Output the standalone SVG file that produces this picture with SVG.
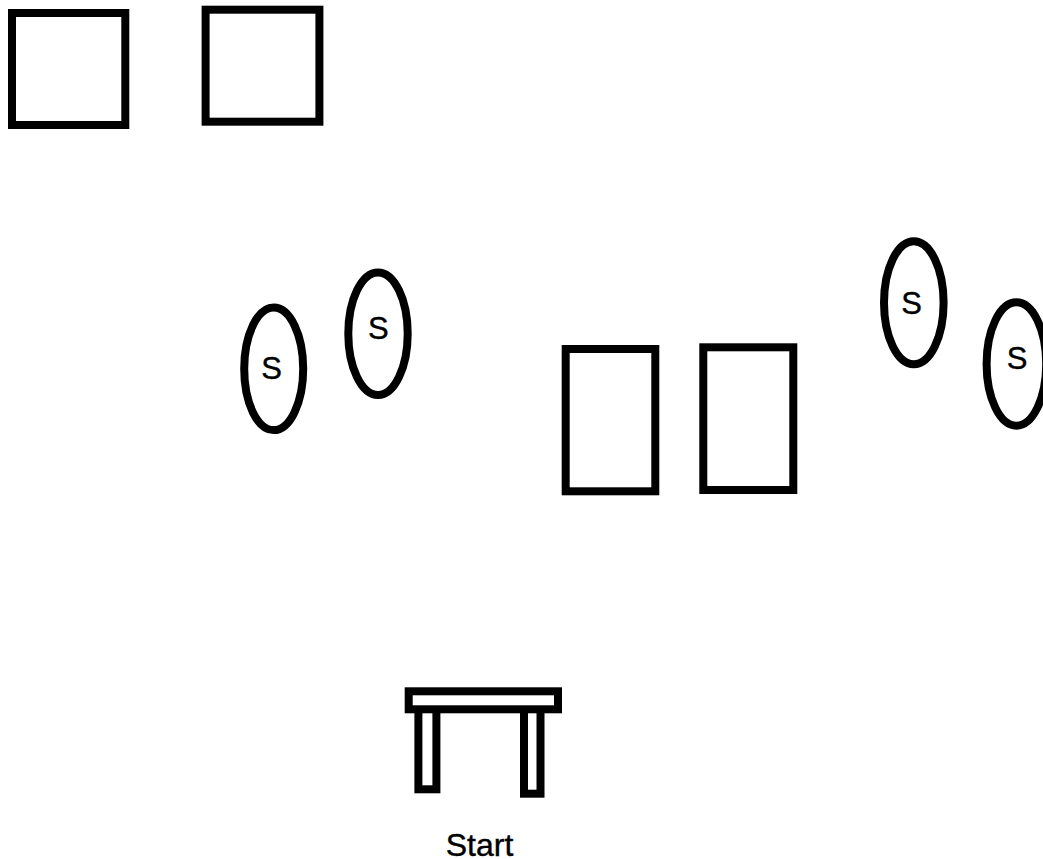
<svg xmlns="http://www.w3.org/2000/svg" width="1043" height="859" viewBox="0 0 1043 859">
<style>
.s{fill:#fff;stroke:#000;stroke-width:8}
.e{fill:#fff;stroke:#000;stroke-width:8}
text{font-family:"Liberation Sans",Arial,sans-serif;font-size:31px;fill:#000;stroke:#000;stroke-width:.4;text-anchor:middle}
</style>
<rect width="1043" height="859" fill="#fff"/>
<g id="box1"><rect class="s" x="12" y="13" width="113.3" height="112"/></g>
<g id="box2"><rect class="s" x="205.6" y="9.7" width="113.8" height="112"/></g>
<g id="box3"><rect class="s" x="565.7" y="349" width="89.6" height="142.3"/></g>
<g id="box4"><rect class="s" x="703.3" y="347.3" width="90" height="142.7"/></g>
<g id="seat1"><ellipse class="e" cx="273.7" cy="368.8" rx="29.5" ry="61.3"/><text x="271.5" y="379">S</text></g>
<g id="seat2"><ellipse class="e" cx="378" cy="333.7" rx="29.7" ry="61.3"/><text x="378.3" y="339">S</text></g>
<g id="seat3"><ellipse class="e" cx="913.8" cy="302.8" rx="29.8" ry="61.5"/><text x="911.5" y="313.5">S</text></g>
<g id="seat4"><ellipse class="e" cx="1016.4" cy="364" rx="29.8" ry="61.7"/><text x="1017" y="369">S</text></g>
<g id="table">
<rect class="s" x="418.4" y="709" width="18" height="80.3"/>
<rect class="s" x="524" y="709" width="16.5" height="84.7"/>
<rect class="s" x="408.7" y="691.3" width="149.3" height="18"/>
<text x="479.5" y="856" style="font-size:32px">Start</text>
</g>
<g id="connectors"></g>
</svg>
